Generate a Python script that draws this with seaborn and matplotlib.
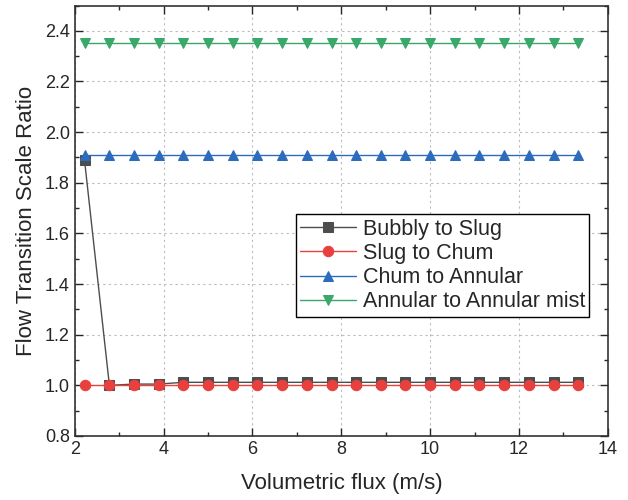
import matplotlib
matplotlib.use("Agg")
import matplotlib.pyplot as plt
import seaborn as sns
import numpy as np
from matplotlib.ticker import MultipleLocator

sns.set_style("ticks")
plt.rcParams['font.family'] = ['Liberation Sans', 'DejaVu Sans']

# data
flux = [2.22, 2.78, 3.33, 3.89, 4.44, 5.00, 5.56, 6.11, 6.67, 7.22, 7.78,
        8.33, 8.89, 9.44, 10.00, 10.56, 11.11, 11.67, 12.22, 12.78, 13.33]
bubbly_slug = [1.89, 1.00, 1.005, 1.005] + [1.012] * 17
slug_churn = [1.00] * 21
churn_annular = [1.91] * 21
annular_mist = [2.35] * 21

series = [
    ("Bubbly to Slug", bubbly_slug, "#4d4d4d", "s"),
    ("Slug to Chum", slug_churn, "#e8403f", "o"),
    ("Chum to Annular", churn_annular, "#2d6bbd", "^"),
    ("Annular to Annular mist", annular_mist, "#3aa86a", "v"),
]

fig = plt.figure(figsize=(6.28, 5), dpi=100)
ax = fig.add_axes([0.119, 0.128, 0.849, 0.861])

for name, vals, col, mk in series:
    sns.lineplot(x=flux, y=vals, ax=ax, color=col, lw=1.0, marker=mk,
                 markersize=7.5, markerfacecolor=col, markeredgecolor=col,
                 label=name)

ax.set_xlim(2, 14)
ax.set_ylim(0.8, 2.5)
ax.xaxis.set_major_locator(MultipleLocator(2))
ax.xaxis.set_minor_locator(MultipleLocator(1))
ax.yaxis.set_minor_locator(MultipleLocator(0.1))
ax.set_yticks(np.arange(0.8, 2.41, 0.2))
ax.tick_params(which='both', direction='in', top=True, right=True,
               labelsize=13, width=1.0)
ax.tick_params(which='major', length=6)
ax.tick_params(which='minor', length=3)
ax.grid(True, which='major', color='#bbbbbb', linestyle=(0, (2, 3)), lw=0.8)
for s in ax.spines.values():
    s.set_linewidth(1.2)
    s.set_color('#333333')

ax.set_xlabel("Volumetric flux (m/s)", fontsize=16, labelpad=11)
ax.set_ylabel("Flow Transition Scale Ratio", fontsize=16, labelpad=6)

leg = ax.legend(loc='upper left', bbox_to_anchor=(0.415, 0.515), fontsize=15.5,
                frameon=True, fancybox=False, handlelength=2.6,
                handletextpad=0.3, borderpad=0.2, labelspacing=0.15,
                borderaxespad=0)
leg.get_frame().set_edgecolor('black')
leg.get_frame().set_linewidth(1.0)
leg.get_frame().set_alpha(1)

fig.savefig("out.png", dpi=100)
